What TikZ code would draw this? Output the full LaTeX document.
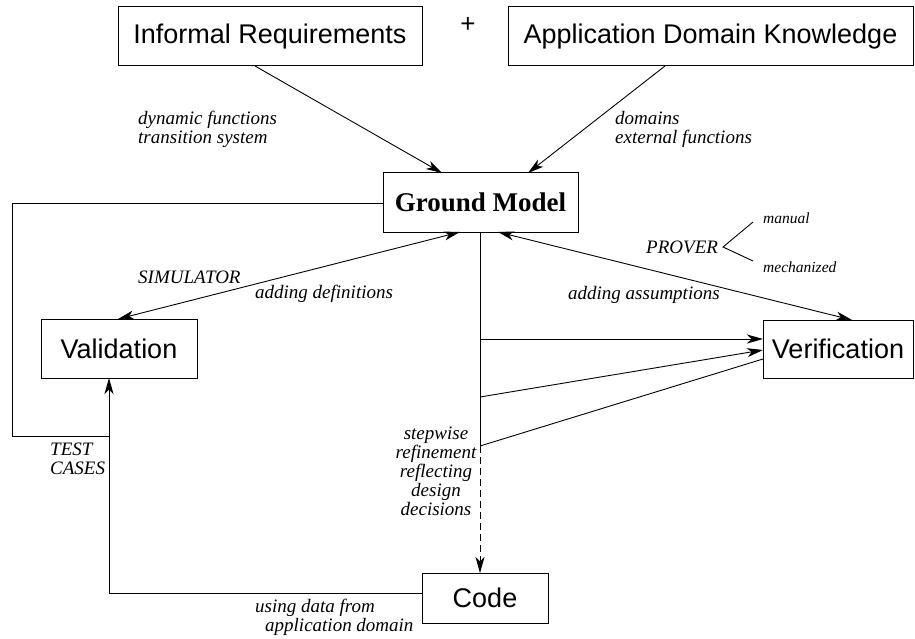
\documentclass[tikz,border=0pt]{standalone}
\usepackage{fontspec}
\setmainfont{Liberation Serif}[ItalicFont={Liberation Serif Italic},BoldFont={Liberation Serif Bold}]
\setsansfont{Liberation Sans}
\usetikzlibrary{arrows.meta}
\begin{document}
\begin{tikzpicture}[x=1pt,y=-1pt,
  box/.style={draw,line width=1pt,inner sep=0pt,font=\sffamily\fontsize{27}{27}\selectfont},
  lab/.style={inner sep=0pt,font=\rmfamily\itshape\fontsize{19}{19}\selectfont,align=left},
  small/.style={inner sep=0pt,font=\rmfamily\itshape\fontsize{15.5}{15.5}\selectfont},
  conn/.style={line width=0.9pt},
  arr/.style={conn,-{Stealth[length=16pt,width=9pt,inset=4.5pt]}},
  darr/.style={conn,{Stealth[length=16pt,width=9pt,inset=4.5pt]}-{Stealth[length=16pt,width=9pt,inset=4.5pt]}}]
\useasboundingbox (0,0) rectangle (915,639);
% boxes
\node[box,minimum width=304pt,minimum height=59pt] (ir) at (270,36.5) {Informal Requirements};
\node[box,minimum width=405pt,minimum height=59pt] (adk) at (710.5,36.5) {Application Domain Knowledge};
\node[inner sep=0pt,font=\sffamily\fontsize{26}{26}\selectfont] (plus) at (468,25) {+};
\node[box,minimum width=195pt,minimum height=59pt,font=\rmfamily\bfseries\fontsize{27}{27}\selectfont] (gm) at (480.5,202.5) {Ground Model};
\node[box,minimum width=156pt,minimum height=59pt] (val) at (119,348.5) {Validation};
\node[box,minimum width=150pt,minimum height=58pt] (ver) at (838,349) {Verification};
\node[box,minimum width=126pt,minimum height=50pt] (code) at (485,598) {Code};
% helper coordinates
\coordinate (irs) at (255,66);
\coordinate (adks) at (665,66);
\coordinate (gmi1) at (442,173);
\coordinate (gmi2) at (528,173);
\coordinate (gmb1) at (460,232);
\coordinate (gmb2) at (498,232);
\coordinate (gmb) at (480,232);
\coordinate (gml) at (383,203);
\coordinate (valt) at (118,319);
\coordinate (valb) at (109,378);
\coordinate (vert) at (852,320);
\coordinate (l1) at (12,203);
\coordinate (l2) at (12,436);
\coordinate (l3) at (109,436);
\coordinate (c1) at (109,593);
\coordinate (codel) at (422,593);
\coordinate (codet) at (480,573);
\coordinate (s1) at (480,339);
\coordinate (s2) at (480,397);
\coordinate (s3) at (480,446);
\coordinate (v1) at (763,339);
\coordinate (v2) at (763,350);
\coordinate (v3) at (763,359);
\coordinate (pb) at (723,247);
\coordinate (pbu) at (753,222);
\coordinate (pbd) at (753,261);
% connectors
\draw[arr] (irs) -- (gmi1);
\draw[arr] (adks) -- (gmi2);
\draw[darr] (gmb1) -- (valt);
\draw[darr] (gmb2) -- (vert);
\draw[conn] (gml) -- (l1) -- (l2) -- (l3);
\draw[arr] (codel) -- (c1) -- (valb);
\draw[conn] (gmb) -- (s3);
\draw[arr,dash pattern=on 7pt off 4pt] (s3) -- (codet);
\draw[arr] (s1) -- (v1);
\draw[arr] (s2) -- (v2);
\draw[conn] (s3) -- (v3);
\draw[conn] (pbu) -- (pb) -- (pbd);
% labels
\node[lab,anchor=west] (l_dyn) at (138,129) {dynamic functions\\transition system};
\node[lab,anchor=west] (l_dom) at (615,129) {domains\\external functions};
\node[lab,anchor=west] (l_sim) at (138,277) {SIMULATOR};
\node[lab,anchor=west] (l_def) at (255,294) {adding definitions};
\node[lab,anchor=west] (l_prov) at (646,247) {PROVER};
\node[small,anchor=west] (l_man) at (763,218) {manual};
\node[small,anchor=west] (l_mech) at (763,267) {mechanized};
\node[lab,anchor=west] (l_ass) at (568,295) {adding assumptions};
\node[lab,align=center] (l_step) at (436,471) {stepwise\\refinement\\reflecting\\design\\decisions};
\node[lab,anchor=west] (l_test) at (50,459) {TEST\\CASES};
\node[lab,anchor=west] (l_use) at (255,617) {using data from\\\hspace*{10pt}application domain};
\end{tikzpicture}
\end{document}
